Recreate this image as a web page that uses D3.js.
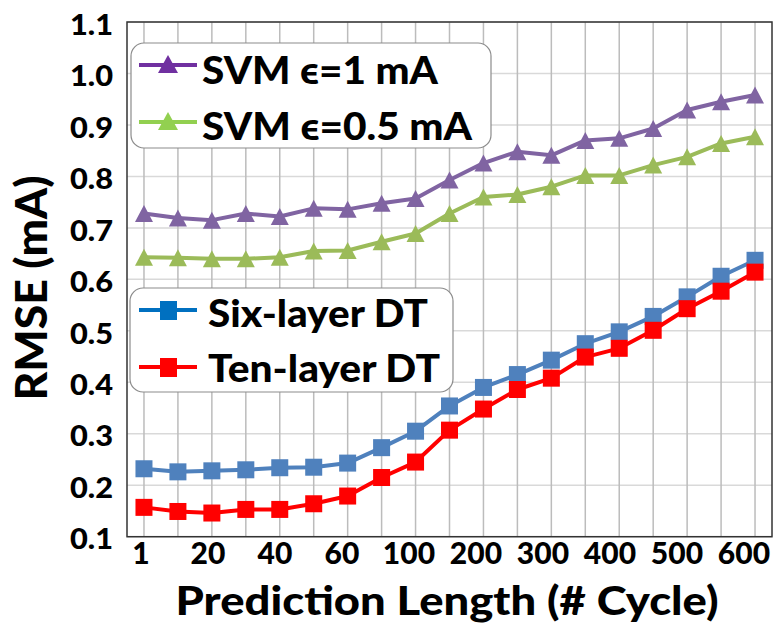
<!DOCTYPE html>
<html><head><meta charset="utf-8">
<script src="https://cdn.jsdelivr.net/npm/d3@7"></script>
<style>body{margin:0;background:#fff}svg{display:block}text{font-family:Lato,"Open Sans",sans-serif;font-weight:900;fill:#000}</style>
</head><body><svg id="c" width="777" height="628"></svg>
<script>
const categories = ["1","10","20","30","40","50","60","80","100","150","200","250","300","350","400","450","500","550","600"];
const shownLabels = ["1","20","40","60","100","200","300","400","500","600"];
const yTicks = [0.1,0.2,0.3,0.4,0.5,0.6,0.7,0.8,0.9,1.0,1.1];
const svm1 = [0.728,0.719,0.715,0.728,0.722,0.738,0.736,0.748,0.757,0.793,0.826,0.848,0.841,0.870,0.874,0.893,0.929,0.945,0.958];
const svm05 = [0.643,0.642,0.640,0.640,0.643,0.655,0.656,0.673,0.689,0.728,0.760,0.765,0.780,0.802,0.802,0.822,0.838,0.864,0.877];
const sixDT = [0.232,0.226,0.228,0.230,0.234,0.235,0.243,0.273,0.305,0.354,0.390,0.415,0.443,0.475,0.498,0.528,0.566,0.606,0.637];
const tenDT = [0.157,0.149,0.146,0.153,0.153,0.164,0.179,0.215,0.245,0.307,0.348,0.386,0.408,0.449,0.466,0.501,0.543,0.577,0.614];
const seriesNames = ["SVM \u03f5=1 mA","SVM \u03f5=0.5 mA","Six-layer DT","Ten-layer DT"];

const svg = d3.select("#c");
const L=127,R=772,T=22,B=536.7;
const x = d3.scaleBand().domain(categories).range([L,R]).padding(0);
const cx = c => x(c)+x.bandwidth()/2;
const y = d3.scaleLinear().domain([0.1,1.1]).range([B,T]);

// gridlines
svg.append("g").selectAll("line").data(yTicks).join("line")
  .attr("x1",L).attr("x2",R).attr("y1",d=>y(d)).attr("y2",d=>y(d))
  .attr("stroke","#d9d9d9").attr("stroke-width",1.5);
svg.append("g").selectAll("line").data(categories).join("line")
  .attr("x1",d=>cx(d)).attr("x2",d=>cx(d)).attr("y1",T).attr("y2",B)
  .attr("stroke","#bcbcbc").attr("stroke-width",1.5);
svg.append("rect").attr("x",L).attr("y",T).attr("width",R-L).attr("height",B-T)
  .attr("fill","none").attr("stroke","#333").attr("stroke-width",1.5);

// axes labels
const yAxis = d3.axisLeft(y).tickValues(yTicks).tickFormat(d3.format(".1f")).tickSize(0).tickPadding(14);
const gy = svg.append("g").attr("transform",`translate(${L},0)`).call(yAxis);
gy.select(".domain").remove();
gy.selectAll("text").attr("font-size",29).attr("dy","0.42em").attr("textLength",43).attr("lengthAdjust","spacingAndGlyphs")
  .style("font-family","Lato,sans-serif").style("font-weight","900").attr("fill","#000");
const xAxis = d3.axisBottom(x).tickValues(shownLabels).tickSize(0).tickPadding(6);
const gx = svg.append("g").attr("transform",`translate(0,${B})`).call(xAxis);
gx.select(".domain").remove();
gx.selectAll("text").attr("font-size",30).attr("dy","0.7em")
  .attr("dx",(d)=>-3-0.45*categories.indexOf(d))
  .style("font-family","Lato,sans-serif").style("font-weight","900").attr("fill","#000");

svg.append("text").attr("x",447).attr("y",615).attr("text-anchor","middle").attr("font-size",40)
  .attr("textLength",543).attr("lengthAdjust","spacingAndGlyphs").text("Prediction Length (# Cycle)");
svg.append("text").attr("transform","translate(47,288) rotate(-90)").attr("text-anchor","middle").attr("font-size",44)
  .attr("textLength",225).attr("lengthAdjust","spacingAndGlyphs").text("RMSE (mA)");

// series
const tri = (w,h) => `M0,${-h/2}L${w/2},${h/2}L${-w/2},${h/2}Z`;
const line = d3.line().x((d,i)=>cx(categories[i])).y(d=>y(d));
const series = [
  {v:svm1,c:"#8064A2",m:"tri"},
  {v:svm05,c:"#9BBB59",m:"tri"},
  {v:sixDT,c:"#4F81BD",m:"sq"},
  {v:tenDT,c:"#FF0000",m:"sq"}
];
series.forEach(s=>{
  svg.append("path").attr("d",line(s.v)).attr("fill","none").attr("stroke",s.c).attr("stroke-width",4).attr("stroke-linejoin","round");
  const g = svg.append("g");
  s.v.forEach((d,i)=>{
    if(s.m==="tri") g.append("path").attr("d",tri(18,17)).attr("transform",`translate(${cx(categories[i])},${y(d)})`).attr("fill",s.c);
    else g.append("rect").attr("x",cx(categories[i])-8.5).attr("y",y(d)-8.5).attr("width",17).attr("height",17).attr("fill",s.c);
  });
});

// legends
function legendBox(x0,y0,w,h){
  svg.append("rect").attr("x",x0).attr("y",y0).attr("width",w).attr("height",h).attr("rx",13)
    .attr("fill","#fff").attr("stroke","#8c8c8c").attr("stroke-width",1.2);
}
legendBox(131,43,360,105);
legendBox(130,288,323,104);
const legItems = [
  {name:seriesNames[0],c:"#7030A0",m:"tri",ly:65,ty:84,tw:236,tx:202},
  {name:seriesNames[1],c:"#92D050",m:"tri",ly:122,ty:140,tw:270,tx:202},
  {name:seriesNames[2],c:"#0070C0",m:"sq",ly:310,ty:327,tw:220,tx:208},
  {name:seriesNames[3],c:"#FF0000",m:"sq",ly:367,ty:382,tw:232,tx:208}
];
legItems.forEach(it=>{
  svg.append("line").attr("x1",139).attr("x2",197).attr("y1",it.ly).attr("y2",it.ly).attr("stroke",it.c).attr("stroke-width",4);
  if(it.m==="tri") svg.append("path").attr("d",tri(20,18)).attr("transform",`translate(168,${it.ly-1})`).attr("fill",it.c);
  else svg.append("rect").attr("x",160).attr("y",it.ly-9).attr("width",17).attr("height",19).attr("fill",it.c);
  svg.append("text").attr("x",it.tx).attr("y",it.ty).attr("font-size",37).attr("textLength",it.tw).attr("lengthAdjust","spacingAndGlyphs").text(it.name);
});
</script></body></html>
